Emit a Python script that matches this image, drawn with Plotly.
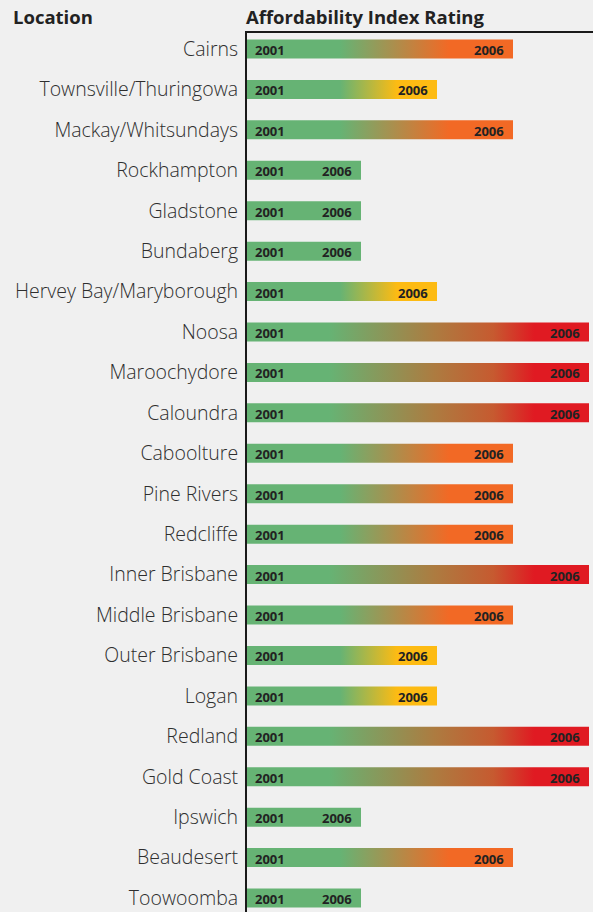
import plotly.graph_objects as go

# Regions and their affordability rating band (1 = green ... 4 = red) in 2001 and 2006
locations = [
    "Cairns", "Townsville/Thuringowa", "Mackay/Whitsundays", "Rockhampton",
    "Gladstone", "Bundaberg", "Hervey Bay/Maryborough", "Noosa", "Maroochydore",
    "Caloundra", "Caboolture", "Pine Rivers", "Redcliffe", "Inner Brisbane",
    "Middle Brisbane", "Outer Brisbane", "Logan", "Redland", "Gold Coast",
    "Ipswich", "Beaudesert", "Toowoomba",
]
rating_2001 = [1] * len(locations)
rating_2006 = [3, 2, 3, 1, 1, 1, 2, 4, 4, 4, 3, 3, 3, 4, 3, 2, 2, 4, 4, 1, 3, 1]
year_start = "2001"
year_end = "2006"

GREEN = "#66b374"
# colour stops along each bar (fraction of bar length)
band_scales = {
    1: [[0, GREEN], [1, GREEN]],
    2: [[0, GREEN], [0.49, GREEN], [0.79, "#fdbb13"], [1, "#fdbb13"]],
    3: [[0, GREEN], [0.35, GREEN], [0.76, "#f26925"], [1, "#f26925"]],
    4: [[0, GREEN], [0.24, GREEN], [0.55, "#ad7b40"], [0.72, "#c65a30"],
        [0.84, "#e01a22"], [1, "#e01a22"]],
}

BAR_H = 0.47
LABEL_FONT = dict(family="Open Sans", size=13, color="#222", weight="bold")
fig = go.Figure()
annotations = []
for i, (loc, r0, r1) in enumerate(zip(locations, rating_2001, rating_2006)):
    end = r1 + 0.5
    y0, y1 = i - BAR_H / 2, i + BAR_H / 2
    fig.add_trace(go.Scatter(
        x=[0, end, end, 0, 0], y=[y0, y0, y1, y1, y0],
        mode="lines", line=dict(width=0), fill="toself",
        fillgradient=dict(type="horizontal", colorscale=band_scales[r1],
                          start=0, stop=end),
        hoverinfo="skip", showlegend=False,
    ))
    annotations.append(dict(x=0, y=i, xref="x", yref="y", text=year_start,
                            showarrow=False, xanchor="left", xshift=6, yshift=-1,
                            font=LABEL_FONT))
    annotations.append(dict(x=end, y=i, xref="x", yref="y", text=year_end,
                            showarrow=False, xanchor="right", xshift=-7, yshift=-1,
                            font=LABEL_FONT))

W, H = 593, 912
L, T = 247, 33

# column headers (pixel positions converted to paper coordinates)
for text, px in (("Location", 11), ("Affordability Index Rating", 244)):
    annotations.append(dict(
        x=(px - L) / (W - L), y=1 + (T - 16) / (H - T),
        xref="paper", yref="paper", text=text, showarrow=False,
        xanchor="left", yanchor="middle",
        font=dict(family="Open Sans", size=18.5, color="#222", weight="bold"),
    ))

row_px = 40.43
first_row = 16
n_px = H - T

fig.update_layout(
    width=W, height=H,
    margin=dict(l=L, r=0, t=T, b=0),
    paper_bgcolor="#f0f0f0", plot_bgcolor="#f0f0f0",
    annotations=annotations,
    xaxis=dict(range=[0, (W - L) / 76], side="top", showgrid=False,
               zeroline=False, showticklabels=False, ticks="",
               showline=True, linecolor="#1a1a1a", linewidth=2),
    yaxis=dict(range=[(n_px - first_row) / row_px, -first_row / row_px],
               tickmode="array", tickvals=list(range(len(locations))),
               ticktext=locations, showgrid=False, zeroline=False, ticks="",
               ticklabelstandoff=3,
               tickfont=dict(family="Open Sans", size=19.5, color="#2e2e2e",
                             weight=300),
               showline=True, linecolor="#1a1a1a", linewidth=2),
)

fig.write_html("out.html")
